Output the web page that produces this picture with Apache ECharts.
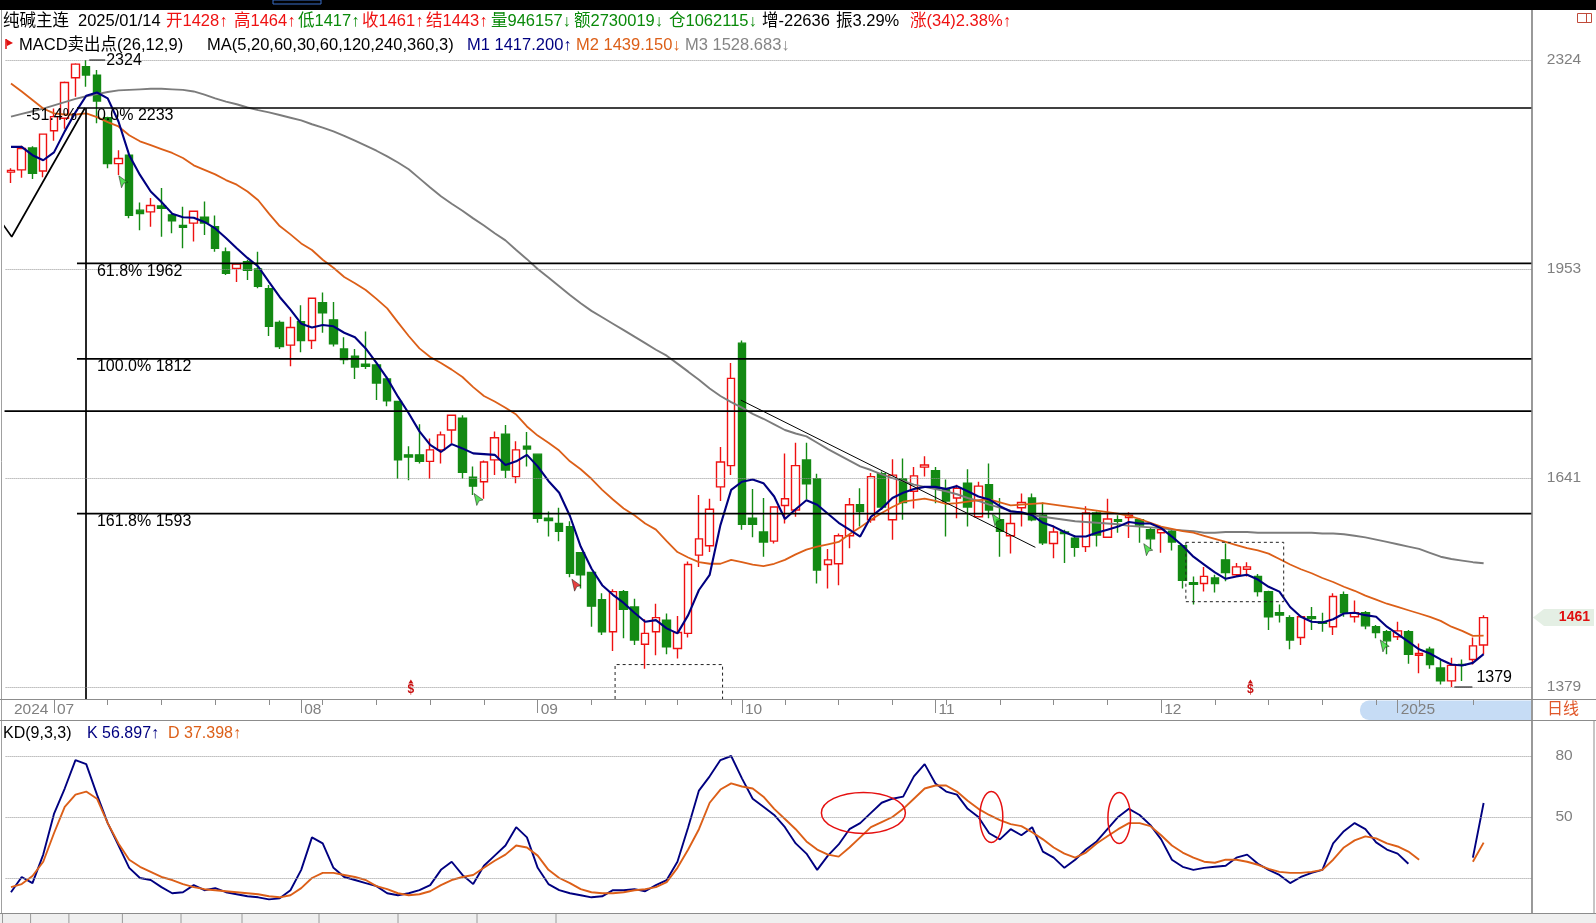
<!DOCTYPE html>
<html><head><meta charset="utf-8">
<script src="https://cdn.jsdelivr.net/npm/echarts@6/dist/echarts.min.js"></script>
<style>html,body{margin:0;padding:0;background:#fff;}#c{width:1596px;height:923px;}</style>
</head><body><div id="c"></div>
<script>
const FONT = '"Liberation Sans","Noto Sans CJK SC",sans-serif';
// ---------- categories (trading days) ----------
const tradeMonths = ['2024-06','2024-07','2024-08','2024-09','2024-10','2024-11','2024-12','2025-01'];
const tradeDays = [
 [25,26,27,28],
 [1,2,3,4,5,8,9,10,11,12,15,16,17,18,19,22,23,24,25,26,29,30,31],
 [1,2,5,6,7,8,9,12,13,14,15,16,19,20,21,22,23,26,27,28,29,30],
 [2,3,4,5,6,9,10,11,12,13,18,19,20,23,24,25,26,27,30],
 [8,9,10,11,14,15,16,17,18,21,22,23,24,25,28,29,30,31],
 [1,4,5,6,7,8,11,12,13,14,15,18,19,20,21,22,25,26,27,28,29],
 [2,3,4,5,6,9,10,11,12,13,16,17,18,19,20,23,24,25,26,27,30,31],
 [2,3,6,7,8,9,10,13,14]
];
// ---------- OHLC ----------
const openP = [2117,2121,2160,2119,2191,2214,2290,2311,2295,2215,
2132,2147,2051,2048,2058,2043,2025,2029,2039,2023,
1981,1954,1965,1953,1921,1868,1833,1869,1840,1899,
1872,1827,1816,1804,1803,1782,1749,1673,1673,1664,
1680,1708,1725,1642,1636,1666,1702,1643,1685,1674,
1587,1580,1576,1542,1517,1483,1444,1493,1474,1429,
1444,1458,1424,1442,1539,1551,1629,1658,1836,1587,
1569,1557,1604,1598,1666,1640,1527,1528,1564,1605,
1585,1647,1585,1640,1623,1656,1651,1627,1614,1634,
1589,1632,1585,1564,1601,1614,1591,1554,1569,1561,
1550,1594,1562,1585,1588,1585,1572,1568,1570,1551,
1504,1503,1510,1533,1514,1521,1512,1493,1467,1461,
1437,1462,1456,1450,1489,1462,1467,1450,1444,1438,
1444,1416,1423,1401,1386,1405,1411,1428];
const highP = [2124,2164,2163,2186,2232,2283,2318,2324,2305,2217,
2156,2148,2064,2072,2089,2045,2057,2050,2066,2042,
1988,1962,1968,1981,1927,1871,1877,1895,1907,1915,
1900,1845,1827,1854,1805,1786,1750,1685,1716,1696,
1706,1730,1729,1657,1665,1706,1715,1692,1705,1675,
1596,1601,1583,1543,1518,1491,1496,1495,1484,1459,
1478,1466,1463,1531,1618,1613,1684,1806,1840,1626,
1614,1603,1675,1690,1690,1647,1547,1567,1614,1627,
1648,1650,1667,1668,1656,1671,1656,1639,1632,1653,
1636,1661,1614,1594,1620,1620,1608,1577,1572,1565,
1603,1596,1613,1591,1595,1587,1575,1575,1572,1552,
1512,1524,1514,1554,1529,1530,1515,1494,1477,1464,
1464,1474,1467,1491,1493,1482,1469,1452,1446,1456,
1446,1430,1426,1411,1413,1411,1437,1464];
const lowP = [2098,2107,2105,2108,2173,2195,2254,2273,2205,2124,
2112,2037,2017,2023,2006,2012,1987,1998,2009,1981,
1943,1932,1935,1922,1847,1827,1801,1822,1827,1852,
1831,1804,1782,1797,1751,1742,1640,1638,1661,1640,
1661,1689,1640,1618,1613,1645,1641,1634,1657,1581,
1563,1557,1511,1497,1450,1440,1421,1436,1428,1400,
1416,1417,1412,1437,1524,1543,1610,1645,1572,1562,
1537,1554,1580,1589,1612,1503,1497,1501,1548,1576,
1581,1598,1559,1585,1600,1643,1607,1563,1587,1576,
1588,1587,1537,1541,1576,1583,1552,1535,1529,1537,
1543,1550,1561,1568,1561,1555,1547,1542,1545,1497,
1477,1493,1492,1506,1512,1512,1487,1446,1455,1423,
1428,1446,1444,1440,1462,1455,1447,1436,1417,1434,
1406,1395,1400,1382,1379,1386,1405,1417];
const closeP = [2120,2159,2115,2185,2217,2281,2316,2295,2246,2132,
2141,2042,2045,2059,2054,2033,2022,2049,2029,1987,
1946,1961,1951,1925,1862,1831,1860,1840,1906,1883,
1835,1811,1800,1801,1776,1750,1666,1670,1664,1680,
1701,1729,1649,1630,1663,1697,1652,1680,1681,1587,
1584,1570,1516,1514,1475,1444,1493,1471,1434,1442,
1461,1426,1443,1527,1560,1599,1663,1783,1579,1579,
1556,1602,1613,1658,1633,1520,1533,1564,1605,1596,
1643,1602,1645,1608,1644,1659,1627,1610,1627,1602,
1630,1598,1570,1580,1608,1585,1555,1569,1567,1549,
1594,1565,1586,1583,1591,1578,1560,1572,1556,1507,
1502,1512,1503,1517,1524,1524,1493,1462,1464,1434,
1462,1460,1454,1487,1467,1467,1451,1443,1433,1445,
1417,1418,1405,1386,1404,1404,1427,1461];
// ---------- moving averages ----------
const ma5 = [2162,2162,2147,2138,2152,2190,2225,2256,2262,2251,
2208,2147,2112,2083,2065,2045,2039,2038,2031,2020,
2004,1987,1971,1957,1932,1908,1888,1866,1860,1864,
1862,1852,1845,1828,1806,1783,1756,1732,1706,1687,
1677,1688,1682,1675,1674,1673,1659,1664,1673,1657,
1637,1621,1590,1550,1522,1501,1489,1479,1467,1456,
1458,1448,1442,1464,1495,1514,1578,1625,1636,1639,
1634,1616,1586,1599,1611,1605,1593,1581,1572,1563,
1589,1600,1614,1621,1626,1629,1629,1626,1630,1623,
1616,1612,1603,1596,1595,1591,1581,1576,1569,1563,
1563,1568,1572,1576,1582,1580,1580,1574,1563,1551,
1537,1527,1517,1509,1512,1514,1508,1499,1493,1474,
1462,1456,1455,1459,1466,1467,1464,1462,1450,1441,
1432,1423,1418,1411,1405,1404,1407,1417.2];
const ma20 = [2279,2264,2248,2232,2223,2221,2221,2223,2216,2207,
2199,2183,2172,2165,2158,2151,2142,2129,2121,2113,
2103,2095,2083,2068,2045,2024,2010,1995,1984,1968,
1955,1940,1930,1919,1905,1890,1868,1847,1828,1815,
1806,1796,1785,1770,1757,1749,1740,1730,1713,1700,
1690,1679,1664,1653,1640,1625,1612,1600,1591,1580,
1572,1557,1543,1536,1530,1528,1528,1533,1530,1527,
1525,1528,1533,1540,1546,1550,1553,1556,1566,1575,
1585,1594,1602,1609,1611,1613,1610,1606,1607,1609,
1611,1612,1608,1604,1605,1606,1607,1605,1603,1601,
1599,1597,1595,1593,1590,1586,1581,1576,1573,1570,
1568,1564,1560,1556,1552,1548,1545,1541,1534,1527,
1521,1516,1510,1505,1499,1494,1488,1483,1478,1474,
1470,1466,1462,1457,1450,1445,1439,1439.15];
const ma60 = [2217,2222,2227,2232,2238,2244,2250,2255,2259,2263,
2266,2267,2268,2269,2269,2268,2267,2264,2258,2251,
2245,2240,2234,2229,2225,2220,2215,2210,2203,2197,
2190,2182,2173,2164,2155,2145,2134,2122,2106,2090,
2075,2062,2050,2037,2025,2012,2000,1984,1969,1953,
1939,1925,1911,1898,1886,1876,1866,1856,1846,1836,
1826,1817,1805,1793,1781,1768,1757,1748,1740,1731,
1724,1716,1708,1703,1699,1690,1681,1673,1665,1657,
1652,1646,1641,1637,1632,1629,1626,1623,1619,1614,
1610,1605,1601,1597,1594,1591,1589,1587,1585,1583,
1582,1581,1580,1579,1577,1576,1575,1574,1572,1571,
1570,1568,1568,1569,1569,1569,1568,1568,1568,1568,
1568,1568,1567,1567,1566,1564,1562,1559,1556,1553,
1550,1547,1542,1537,1534,1532,1530,1528.68];
// ---------- KD(9,3,3) ----------
const kLine = [13,20.5,17.5,31.5,51.5,64,78,76,61,47,
36,25,20,19,15.5,12.5,13,16.5,14,15,
13,12,11,10.5,9.5,10,14,24,40,37,
25,20.5,19,17.5,16,12.5,11.5,12.5,14,16.5,
24,28,21.5,17,26,31,36,45,40,25,
17,14,12.5,11.5,10.5,11,14,14,14.5,13.5,
16.5,19,28,45,63,70,78,80,69,59,
55,51,45,37,32,24,31,36.5,44,47,
52,57,59,60,70,76,66.5,62.5,61,54,
50,42,39,44,41,45,33,30,25,29,
34,38,44,50,54,51,46,39,29,25.5,
24,25,25.5,26,30,31.5,27,24,21.5,17.5,
20.5,22.5,24,37,43,47,44,37.5,34,32,
27,null,null,null,null,null,30,56.897];
const dLine = [15.5,17,21,28,42,55,61,62.5,59,47,
37,29,25.5,23,20.5,19,17,15.5,14.5,14,
13.5,13,12.5,12,11,10.5,11.5,15,20,22.5,
22.5,21.5,20.5,19,16,14.5,12.5,11.5,12,13.5,
16.5,19,20.5,21.5,25,28.5,31.5,36,35,31,
24,20,17.5,14.5,13,12.5,12.5,13,14,14.5,
15.5,18,25,34,44,57,63.5,66.5,65,64,
60,54,49,44,38,34,31.5,30.5,35,40,
45,47.5,50,54,59,64,65.5,65.5,62.5,58,
54,51,48.5,46.5,45.5,42.5,39,35,32,30,
32.5,37,40.5,44,47,47,45.5,41,36,32.5,
30,28,27.5,29,29,28,26.5,24.5,23,22.5,
22.5,23,24,29,35,38.5,40.5,39.5,37,35.5,
33,29,null,null,null,null,28,37.398];
// ---------- axis ticks ----------
const priceTicks = [1379,1641,1953,2324];
const kdTicks = [50,80];
const kdGuides = [20,50,80];
// ---------- drawn objects (index, price) ----------
const fibPrices = [2233,1962,1812,1593];
const fibTexts = ['0.0% 2233','61.8% 1962','100.0% 1812','161.8% 1593'];
const fibStartIdx = 6.14;
const extraLinePrice = 1735;
const swingIdx = [-0.87,0.07,6.88];
const swingPrice = [2030,2006,2233];
const vLineIdx = 6.98;
const trendIdx = [67.9,95.3];
const trendPrice = [1751,1549];
const box1Idx = [56.2,66.2], box1Price = [1405];
const box2Idx = [109.3,118.4], box2Price = [1555.5,1480.5];
const sellIdx = [10.45,43.5,91.7,105.8,127.8];
const sellPrice = [2100,1612,1585,1546,1427];
const buyIdx = [52.6], buyPrice = [1501];
const dollarIdx = [37.2,115.3];
const highIdx = 7, highVal = 2324, lowIdx = 134, lowVal = 1379, lastPrice = 1461;
const ellIdx = [79.3,91.2,103.1], ellKD = [52,50,49.5];

// ---------- build ----------
const dates = [];
tradeMonths.forEach((m,mi)=>tradeDays[mi].forEach(d=>dates.push(m+'-'+String(d).padStart(2,'0'))));
const cats = dates.concat(['','','','']);
const weekStart = new Set(), monthStart = new Set();
const wk = s => Math.floor((Date.parse(s+'T00:00:00Z')/86400000 + 3)/7);
for (let i=1;i<dates.length;i++){
  if (wk(dates[i])!==wk(dates[i-1])) weekStart.add(i);
  if (dates[i].slice(0,7)!==dates[i-1].slice(0,7)) monthStart.add(i);
}
const monthLabel = {0: dates[0].slice(0,4)};
monthStart.forEach(i=>{ monthLabel[i] = dates[i].slice(0,4)!==dates[i-1].slice(0,4) ? dates[i].slice(0,4) : dates[i].slice(5,7); });

const RED='#ee1111', GREEN='#0a8a0a', NAVY='#000080', ORANGE='#dc5f18', GRAY='#858585';
const YMIN = 1365.3, YMAX = 2418.8;
const candleData = openP.map((o,i)=>[o, closeP[i], lowP[i], highP[i]]);
const maLine = (d,color,w)=>({type:'line', xAxisIndex:0, yAxisIndex:0, data:d, symbol:'none', silent:true, z:3, lineStyle:{color, width:w}, animation:false});
const annot = (data,w,extra)=>({type:'line', xAxisIndex:2, yAxisIndex:0, data, symbol:'none', silent:true, z:4, clip:false, lineStyle:Object.assign({color:'#000', width:w}, extra||{}), animation:false});
const ARROW = 'path://M0,0L10,7L5.5,8L3,13Z';

const series = [
 {type:'candlestick', xAxisIndex:0, yAxisIndex:0, data:candleData, barWidth:8, z:2, silent:true,
  itemStyle:{color:'#ffffff', color0:'#138a13', borderColor:RED, borderColor0:'#138a13', borderWidth:1.4},
  markLine:{silent:true, symbol:['none','none'], label:{show:false}, animation:false,
    lineStyle:{type:'dotted', color:'#969696', width:1}, data: priceTicks.map(p=>({yAxis:p}))}},
 maLine(ma60, '#7c7c7c', 1.9), maLine(ma20, ORANGE, 1.8), maLine(ma5, NAVY, 2.1),
 {type:'line', xAxisIndex:3, yAxisIndex:2, data:kLine, symbol:'none', silent:true, z:3, lineStyle:{color:NAVY, width:1.9}, connectNulls:false,
  markLine:{silent:true, symbol:['none','none'], label:{show:false}, animation:false,
    lineStyle:{type:'dotted', color:'#969696', width:1}, data: kdGuides.map(v=>({yAxis:v}))}},
 {type:'line', xAxisIndex:3, yAxisIndex:2, data:dLine, symbol:'none', silent:true, z:3, lineStyle:{color:ORANGE, width:1.9}, connectNulls:false},
];
fibPrices.forEach(p=>series.push(annot([[fibStartIdx,p],[cats.length-0.5,p]],1.7)));
series.push(annot([[-0.6,extraLinePrice],[cats.length-0.5,extraLinePrice]],1.7));
series.push(annot(swingIdx.map((x,i)=>[x,swingPrice[i]]),1.7));
series.push(annot([[vLineIdx,fibPrices[0]],[vLineIdx,YMIN]],1.7));
series.push(annot(trendIdx.map((x,i)=>[x,trendPrice[i]]),1));
series.push(annot([[box1Idx[0],YMIN],[box1Idx[0],box1Price[0]],[box1Idx[1],box1Price[0]],[box1Idx[1],YMIN]],1,{type:[3,3],color:'#222'}));
series.push(annot([[box2Idx[0],box2Price[0]],[box2Idx[1],box2Price[0]],[box2Idx[1],box2Price[1]],[box2Idx[0],box2Price[1]],[box2Idx[0],box2Price[0]]],1,{type:[3,3],color:'#222'}));
series.push({type:'scatter', xAxisIndex:2, yAxisIndex:0, data:sellIdx.map((x,i)=>[x,sellPrice[i]]), symbol:ARROW, symbolSize:[9,12], z:6, silent:true, itemStyle:{color:'#30d630', borderColor:'#111', borderWidth:0.6}});
series.push({type:'scatter', xAxisIndex:2, yAxisIndex:0, data:buyIdx.map((x,i)=>[x,buyPrice[i]]), symbol:ARROW, symbolSize:[9,12], z:6, silent:true, itemStyle:{color:'#e01010', borderColor:'#111', borderWidth:0.6}});

const axisLabelBase = {color:'#808080', fontSize:15.5, fontFamily:FONT};
const option = {
  animation:false, backgroundColor:'#ffffff',
  grid:[{left:5.6, top:12, width:1526.4, height:687},{left:5.6, top:720, width:1526.4, height:193}],
  xAxis:[
   {type:'category', gridIndex:0, data:cats, position:'bottom', boundaryGap:true,
    axisLine:{show:true, lineStyle:{color:'#8c8c8c'}},
    axisTick:{show:true, alignWithLabel:true, interval:(i)=>weekStart.has(i), length:6, lineStyle:{color:'#8c8c8c'}},
    axisLabel:{show:false}, splitLine:{show:false}},
   {type:'category', gridIndex:0, data:cats, position:'bottom', boundaryGap:true,
    axisLine:{show:false},
    axisTick:{show:true, alignWithLabel:true, interval:(i)=>monthStart.has(i), length:14, lineStyle:{color:'#8c8c8c'}},
    axisLabel:Object.assign({show:true, interval:(i)=>monthLabel[i]!==undefined, formatter:(v,i)=>monthLabel[i]||'', align:'left', margin:3, padding:[0,0,0,3]}, axisLabelBase),
    splitLine:{show:false}},
   {type:'value', gridIndex:0, min:-0.5, max:cats.length-0.5, show:false},
   {type:'category', gridIndex:1, data:cats, boundaryGap:true, show:false},
   {type:'value', gridIndex:1, min:-0.5, max:cats.length-0.5, show:false}
  ],
  yAxis:[
   {type:'log', logBase:10, gridIndex:0, min:YMIN, max:YMAX, position:'right', show:false},
   {type:'value', gridIndex:0, min:Math.log(YMIN), max:Math.log(YMAX), position:'right',
    axisLine:{show:false}, axisTick:{show:false}, splitLine:{show:false},
    axisLabel:Object.assign({customValues:priceTicks.map(Math.log), formatter:v=>String(Math.round(Math.exp(v))), align:'center', margin:32}, axisLabelBase)},
   {type:'value', gridIndex:1, min:2.787, max:97.7, position:'right',
    axisLine:{show:false}, axisTick:{show:false}, splitLine:{show:false},
    axisLabel:Object.assign({customValues:kdTicks, formatter:v=>String(v), align:'center', margin:32}, axisLabelBase)}
  ],
  series
};
const chart = echarts.init(document.getElementById('c'));
chart.setOption(option);

// ---------- overlay ----------
const P = (i,p)=>chart.convertToPixel({xAxisIndex:2, yAxisIndex:0},[i,p]);
const Q = (i,v)=>chart.convertToPixel({xAxisIndex:4, yAxisIndex:2},[i,v]);
const T = (text,x,y,fill,size,align,weight)=>({type:'text', z:50, silent:true, style:{text, x, y, fill, font:(weight?weight+' ':'')+(size||16)+'px '+FONT, textAlign:align||'left', textVerticalAlign:'middle'}});
const L = (x1,y1,x2,y2,stroke,w,z)=>({type:'line', z:z||40, silent:true, shape:{x1,y1,x2,y2}, style:{stroke, lineWidth:w||1}});
const g = [];
g.push({type:'rect', z:60, shape:{x:0,y:0,width:1596,height:10}, style:{fill:'#000'}});
g.push({type:'rect', z:61, shape:{x:273,y:0,width:48,height:4}, style:{fill:'none', stroke:'#3a6fc8', lineWidth:1}});
// borders
g.push(L(1.5,10,1.5,913,'#a0a0a0',1));
g.push(L(1532,10,1532,913,'#808080',1.6));
g.push(L(0,699.5,1596,699.5,'#8c8c8c',1));
g.push(L(0,720.5,1596,720.5,'#8c8c8c',1));
g.push(L(0,913.5,1596,913.5,'#8c8c8c',1));
g.push(L(1594,720,1594,913,'#8c8c8c',1));
g.push({type:'rect', z:-1, shape:{x:1360,y:700.5,width:171,height:19.5, r:[9,0,0,9]}, style:{fill:'#c6dcf5'}});
g.push(T('日线',1563,710,'#e0582a',16,'center'));
g.push({type:'rect', z:50, shape:{x:1577.5,y:13.5,width:14,height:9}, style:{fill:'none', stroke:'#c04a3a', lineWidth:1}});
g.push(L(1586.5,13.5,1586.5,22.5,'#c04a3a',1,50));
// bottom tab strip
g.push({type:'rect', z:30, shape:{x:0,y:914,width:1596,height:9}, style:{fill:'#efefef'}});
[2.5,30.6,68.9,122.4,181,242,319,398,477,556].forEach(x=>g.push(L(x,914,x,923,'#9a9a9a',1)));
// header row 1
const r1 = [['纯碱主连',3,'#000'],['2025/01/14',78,'#000'],['开1428↑',166,RED],['高1464↑',234,RED],['低1417↑',298,GREEN],['收1461↑',362,RED],['结1443↑',426,RED],['量946157↓',491,GREEN],['额2730019↓',574,GREEN],['仓1062115↓',669,GREEN],['增-22636',762,'#000'],['振3.29%',836,'#000'],['涨(34)2.38%↑',910,RED]];
r1.forEach(a=>g.push(T(a[0],a[1],21,a[2],16.5)));
g.push({type:'polygon', z:50, shape:{points:[[6,39],[13,43],[7,46]]}, style:{fill:'#e01010'}});
g.push(L(6,39,6,49,'#e01010',1.5,50));
const r2 = [['MACD卖出点(26,12,9)',19,'#000'],['MA(5,20,60,30,60,120,240,360,3)',207,'#000'],['M1 1417.200↑',467,NAVY],['M2 1439.150↓',576,ORANGE],['M3 1528.683↓',685,GRAY]];
r2.forEach(a=>g.push(T(a[0],a[1],45,a[2],16.5)));
const r3 = [['KD(9,3,3)',3,'#000'],['K 56.897↑',87,NAVY],['D 37.398↑',168,ORANGE]];
r3.forEach(a=>g.push(T(a[0],a[1],734,a[2],16)));
// fib texts
const fx = P(fibStartIdx, fibPrices[0])[0];
fibPrices.forEach((p,k)=>{ const y = P(fibStartIdx,p)[1]; g.push(T(fibTexts[k], fx+20, y+8, '#000', 16)); });
g.push(T('-51.4%', fx, P(fibStartIdx,fibPrices[0])[1]+8, '#000', 16, 'right'));
// high / low labels
const hp = P(highIdx, highVal);
g.push(L(hp[0]+3,hp[1],hp[0]+19,hp[1],'#000',1));
g.push(T(String(highVal), hp[0]+20, hp[1]+1, '#000', 16));
const lp = P(lowIdx, lowVal);
g.push(L(lp[0]+3,lp[1],lp[0]+21,lp[1],'#000',1));
g.push(T(String(lowVal), lp[0]+25, lp[1]-9, '#000', 16));
// last price tag
const ly = P(0,lastPrice)[1];
g.push({type:'polygon', z:45, shape:{points:[[1533,ly],[1544,ly-8.5],[1594,ly-8.5],[1594,ly+8.5],[1544,ly+8.5]]}, style:{fill:'#e4efe4'}});
g.push(T(String(lastPrice),1590,ly,'#e01010',14,'right','bold'));
// $ markers
dollarIdx.forEach(i=>{ const q = P(i,1376); g.push(T('$',q[0],q[1],'#c81010',12,'center','bold')); g.push({type:'polygon', z:50, shape:{points:[[q[0]-2.5,q[1]-6],[q[0]+2.5,q[1]-6],[q[0],q[1]-10]]}, style:{fill:'#c81010'}}); });
// ellipses in KD
const ellRx = [42,11.5,11.3], ellRy = [20.5,25.4,25.5];
ellIdx.forEach((i,k)=>{ const c = Q(i, ellKD[k]); g.push({type:'ellipse', z:50, silent:true, shape:{cx:c[0], cy:c[1], rx:ellRx[k], ry:ellRy[k]}, style:{fill:'none', stroke:'#e51010', lineWidth:1.5}}); });
chart.setOption({graphic:g});
</script></body></html>
